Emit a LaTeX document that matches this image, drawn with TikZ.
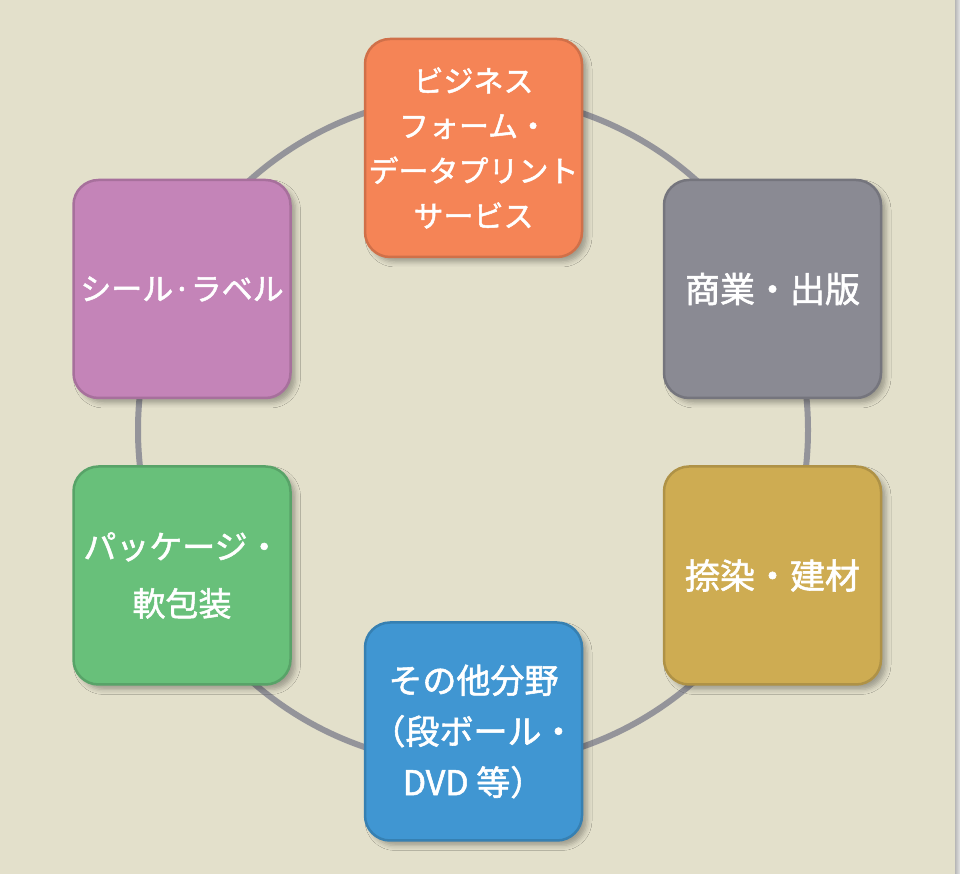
\documentclass[tikz,border=0pt]{standalone}
\usepackage{fontspec}
\setmainfont{Noto Sans CJK JP}[FakeBold=1.6]
\usetikzlibrary{shadows.blur}
\definecolor{bg}{RGB}{227,224,203}
\definecolor{ringc}{RGB}{148,148,154}
\definecolor{corange}{RGB}{245,132,86}
\definecolor{cgray}{RGB}{138,138,147}
\definecolor{cpurple}{RGB}{196,132,184}
\definecolor{cgreen}{RGB}{104,192,122}
\definecolor{cgold}{RGB}{206,172,82}
\definecolor{cblue}{RGB}{64,150,210}
\tikzset{
  ring/.style={draw=ringc, line width=6pt},
  catbox/.style={rounded corners=25pt, minimum width=217pt, minimum height=218pt,
    inner sep=0pt, text=white, align=center, line width=2.5pt,
    blur shadow={shadow xshift=5pt, shadow yshift=-5pt, shadow blur radius=5pt, shadow opacity=30}},
  catcol/.style={fill=#1, draw=#1!85!black}
}
\begin{document}
\begin{tikzpicture}[x=1pt,y=1pt]
\fill[bg] (0,0) rectangle (960,874);
\shade[left color=black!28, right color=black!10] (955,0) rectangle (960,874);
\useasboundingbox (0,0) rectangle (960,874);
\coordinate (c) at (473,444);
\draw[ring] (c) circle[radius=335];
\node[catbox, catcol=corange, font=\fontsize{30}{45}\selectfont] (biz) at (473.5,726)
  {ビジネス\\フォーム・\\データプリント\\サービス};
\node[catbox, catcol=cgray, font=\fontsize{35}{45}\selectfont] (pub) at (772.5,585)
  {商業・出版};
\node[catbox, catcol=cgold, font=\fontsize{35}{45}\selectfont] (tex) at (772.5,298.5)
  {捺染・建材};
\node[catbox, catcol=cblue, font=\fontsize{34}{51}\selectfont] (oth) at (473.5,142.5)
  {その他分野\\（段ボール・\\DVD 等）};
\node[catbox, catcol=cgreen, font=\fontsize{33}{57}\selectfont] (pkg) at (182,298.5)
  {パッケージ・\\軟包装};
\node[catbox, catcol=cpurple, font=\fontsize{31}{45}\selectfont] (lab) at (182,585)
  {シール·ラベル};
\end{tikzpicture}
\end{document}
